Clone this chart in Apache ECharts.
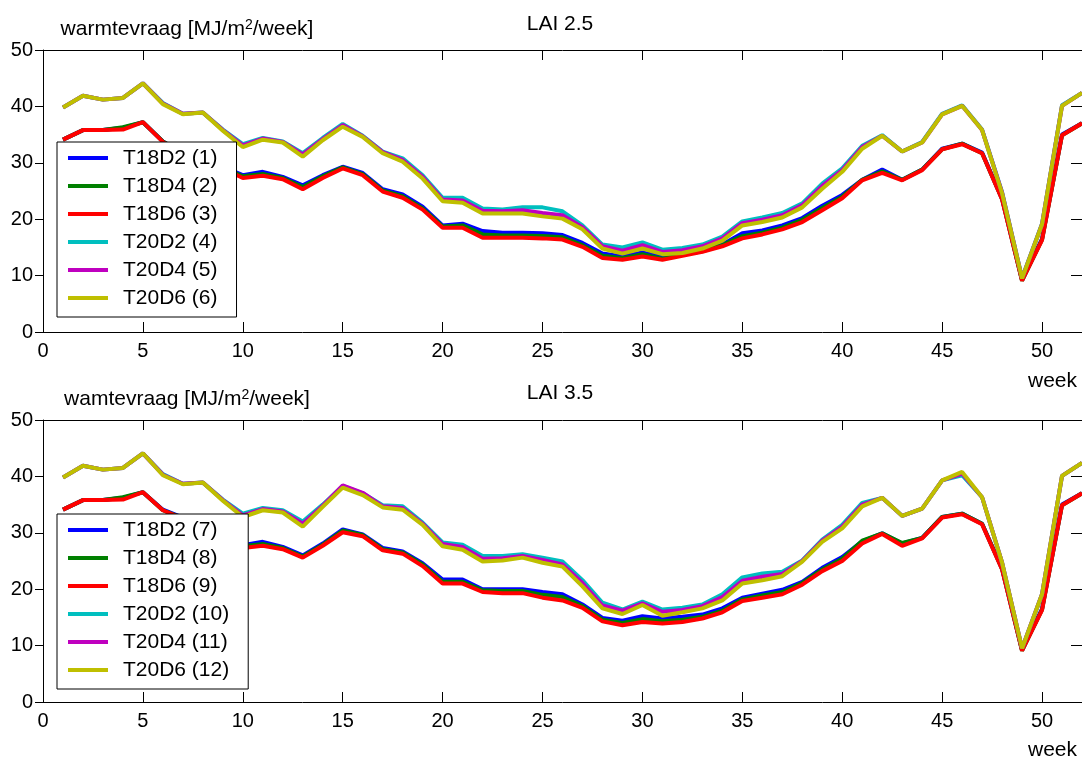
<!DOCTYPE html>
<html>
<head>
<meta charset="utf-8">
<script src="https://cdn.jsdelivr.net/npm/echarts@6/dist/echarts.min.js"></script>
<style>
html,body{margin:0;padding:0;background:#fff;}
#chart{width:1082px;height:760px;}
</style>
</head>
<body>
<div id="chart"></div>
<script>
// ---------- data ----------
var weeks = [1,2,3,4,5,6,7,8,9,10,11,12,13,14,15,16,17,18,19,20,21,22,23,24,25,26,
             27,28,29,30,31,32,33,34,35,36,37,38,39,40,41,42,43,44,45,46,47,48,49,50,51,52];
var xTicks = [0,5,10,15,20,25,30,35,40,45,50];
var yTicks = [0,10,20,30,40,50];

var namesTop = ['T18D2 (1)','T18D4 (2)','T18D6 (3)','T20D2 (4)','T20D4 (5)','T20D6 (6)'];
var namesBot = ['T18D2 (7)','T18D4 (8)','T18D6 (9)','T20D2 (10)','T20D4 (11)','T20D6 (12)'];
var colors = ['#0000ff','#008000','#ff0000','#00bfbf','#bf00bf','#bfbf00'];

// LAI 2.5
var top_T18D2 = [34.1,35.8,35.8,36.2,37.2,33.8,31.7,30.8,29.3,27.8,28.4,27.5,26.0,27.8,29.3,28.2,25.3,24.4,22.2,18.9,19.2,17.9,17.6,17.6,17.5,17.2,15.8,13.9,13.4,14.1,13.3,13.9,14.5,15.5,17.5,18.0,18.9,20.2,22.4,24.3,27.0,28.8,27.0,28.8,32.5,33.4,31.8,23.6,9.2,16.5,35.0,37.0];
var top_T18D4 = [34.1,35.8,35.8,36.3,37.2,33.8,31.6,30.6,29.1,27.6,28.0,27.3,25.7,27.6,29.2,28.0,25.1,24.1,21.9,18.7,18.9,17.3,17.1,17.1,17.0,16.8,15.4,13.5,13.1,13.8,13.0,13.7,14.3,15.4,17.0,17.6,18.5,19.9,22.0,24.0,27.0,28.5,27.0,28.8,32.4,33.4,31.7,23.6,9.1,16.4,34.9,37.0];
var top_T18D6 = [34.1,35.8,35.8,35.9,37.2,33.7,31.5,30.5,29.0,27.3,27.7,27.1,25.3,27.3,29.0,27.8,24.9,23.8,21.7,18.5,18.5,16.7,16.7,16.7,16.6,16.4,15.1,13.1,12.8,13.4,12.8,13.5,14.2,15.2,16.6,17.3,18.2,19.5,21.6,23.7,26.9,28.2,26.9,28.7,32.4,33.3,31.7,23.5,9.1,16.3,34.9,37.0];
var top_T20D2 = [39.8,41.9,41.2,41.5,44.1,40.6,38.7,38.9,35.9,33.3,34.4,33.8,31.7,34.4,36.9,34.8,32.0,30.8,27.8,23.8,23.8,21.9,21.7,22.1,22.1,21.4,18.9,15.5,15.0,15.9,14.6,14.9,15.5,16.9,19.6,20.3,21.1,22.8,26.3,29.0,33.0,34.9,32.0,33.7,38.7,40.2,35.9,24.8,9.6,19.2,40.2,42.4];
var top_T20D4 = [39.8,41.9,41.2,41.5,44.1,40.5,38.7,38.9,35.8,33.1,34.3,33.7,31.5,34.2,36.7,34.7,31.9,30.5,27.5,23.5,23.3,21.5,21.4,21.6,21.1,20.7,18.6,15.2,14.4,15.4,14.2,14.5,15.2,16.6,19.3,19.9,20.7,22.5,25.9,28.7,32.8,34.8,32.0,33.6,38.6,40.1,35.8,24.7,9.5,19.1,40.1,42.4];
var top_T20D6 = [39.8,41.9,41.2,41.5,44.1,40.4,38.6,38.9,35.7,32.8,34.1,33.6,31.1,34.0,36.4,34.6,31.7,30.2,27.2,23.2,22.9,21.0,21.0,21.0,20.5,20.1,18.2,14.8,13.9,14.8,13.8,14.0,14.8,16.2,18.9,19.5,20.3,22.1,25.4,28.4,32.5,34.8,32.0,33.6,38.6,40.1,35.8,24.6,9.5,19.1,40.1,42.4];

// LAI 3.5
var bot_T18D2 = [34.1,35.8,35.8,36.2,37.2,34.1,32.7,31.3,29.4,27.8,28.4,27.5,26.0,28.1,30.6,29.7,27.3,26.7,24.6,21.7,21.7,20.0,20.0,20.0,19.5,19.1,17.3,14.9,14.4,15.2,14.8,15.1,15.5,16.6,18.5,19.2,19.9,21.3,23.8,25.7,28.5,29.9,28.1,29.1,32.8,33.4,31.6,23.6,9.2,16.5,35.0,37.0];
var bot_T18D4 = [34.1,35.8,35.8,36.3,37.2,34.0,32.6,31.2,29.2,27.6,28.0,27.3,25.8,27.9,30.4,29.6,27.1,26.5,24.4,21.3,21.3,19.8,19.7,19.7,19.0,18.6,17.0,14.6,14.0,14.7,14.3,14.6,15.1,16.2,18.2,18.9,19.5,21.1,23.5,25.4,28.6,29.9,28.2,29.1,32.8,33.4,31.6,23.6,9.1,16.4,34.9,37.0];
var bot_T18D6 = [34.1,35.8,35.8,35.9,37.2,34.0,32.5,31.0,29.0,27.3,27.7,27.1,25.6,27.7,30.1,29.4,26.9,26.3,24.1,21.0,21.0,19.5,19.3,19.3,18.5,18.0,16.7,14.3,13.6,14.2,13.9,14.2,14.8,15.9,17.9,18.5,19.1,20.8,23.2,25.0,28.1,29.8,27.7,29.0,32.7,33.3,31.5,23.5,9.1,16.3,34.9,37.0];
var bot_T20D2 = [39.8,41.9,41.2,41.5,44.1,40.4,38.7,38.9,35.9,33.4,34.4,34.0,32.0,35.0,38.3,37.0,34.9,34.7,31.8,28.3,27.9,25.9,25.9,26.2,25.6,24.9,21.6,17.6,16.4,17.8,16.4,16.7,17.3,19.1,22.1,22.8,23.1,25.1,28.8,31.4,35.3,36.2,33.0,34.3,39.3,40.2,36.3,24.7,9.5,19.1,40.1,42.4];
var bot_T20D4 = [39.8,41.9,41.2,41.5,44.1,40.3,38.7,38.9,35.8,33.1,34.2,33.8,31.6,34.8,38.4,37.1,34.7,34.4,31.6,28.0,27.5,25.4,25.5,25.9,25.2,24.4,21.1,17.1,16.2,17.5,16.0,16.3,17.0,18.6,21.5,22.2,22.7,25.0,28.6,31.1,35.0,36.2,33.0,34.3,39.3,40.5,36.3,24.7,9.5,19.1,40.1,42.4];
var bot_T20D6 = [39.8,41.9,41.2,41.5,44.1,40.2,38.6,38.9,35.7,32.8,34.0,33.6,31.1,34.6,38.0,36.7,34.5,34.1,31.4,27.6,27.0,24.9,25.1,25.6,24.7,24.0,20.5,16.6,15.6,17.2,15.3,15.9,16.6,18.0,21.0,21.6,22.3,24.9,28.4,30.8,34.7,36.2,33.0,34.3,39.3,40.8,36.3,24.7,9.5,19.1,40.1,42.4];

var topSeries = [top_T18D2, top_T18D4, top_T18D6, top_T20D2, top_T20D4, top_T20D6];
var botSeries = [bot_T18D2, bot_T18D4, bot_T18D6, bot_T20D2, bot_T20D4, bot_T20D6];

// ---------- chart ----------
var FONT = '"Liberation Sans", Arial, Helvetica, sans-serif';
function pairs(vals){ return weeks.map(function(w,i){ return [w, vals[i]]; }); }

var GRID_LEFT = 43, GRID_W = 1040, GRID_H = 282;
var gridTops = [50, 420];

function xAxes(gi){
  return [
    { gridIndex: gi, type: 'value', position: 'bottom', min: 0, max: 52, interval: 5,
      axisLine: { onZero: false, lineStyle: { color: '#000', width: 1 } },
      axisTick: { inside: true, length: 10, lineStyle: { color: '#000' } },
      axisLabel: { color: '#000', fontSize: 20, fontFamily: FONT, margin: 9, showMaxLabel: false },
      splitLine: { show: false } },
    { gridIndex: gi, type: 'value', position: 'top', min: 0, max: 52, interval: 5,
      axisLine: { onZero: false, lineStyle: { color: '#000', width: 1 } },
      axisTick: { inside: true, length: 10, lineStyle: { color: '#000' } },
      axisLabel: { show: false }, splitLine: { show: false } }
  ];
}
function yAxes(gi){
  return [
    { gridIndex: gi, type: 'value', position: 'left', min: 0, max: 50, interval: 10,
      axisLine: { show: true, onZero: false, lineStyle: { color: '#000', width: 1 } },
      axisTick: { show: true, inside: false, length: 8, lineStyle: { color: '#000' } },
      axisLabel: { color: '#000', fontSize: 20, fontFamily: FONT, margin: 10 },
      splitLine: { show: false } },
    { gridIndex: gi, type: 'value', position: 'right', min: 0, max: 50, interval: 10,
      axisLine: { show: true, onZero: false, lineStyle: { color: '#000', width: 1 } },
      axisTick: { show: true, inside: true, length: 11, lineStyle: { color: '#000' } },
      axisLabel: { show: false }, splitLine: { show: false } }
  ];
}

var series = [];
function addSeries(names, data, gi){
  names.forEach(function(n, i){
    series.push({
      name: n, type: 'line', xAxisIndex: gi*2, yAxisIndex: gi*2,
      data: pairs(data[i]), showSymbol: false, symbol: 'none',
      lineStyle: { color: colors[i], width: 4 }, itemStyle: { color: colors[i] },
      clip: true, animation: false, z: 2
    });
  });
}
addSeries(namesTop, topSeries, 0);
addSeries(namesBot, botSeries, 1);

function legend(names, top){
  return {
    data: names, orient: 'vertical', left: 57, top: top, z: 20,
    icon: 'rect', itemWidth: 40, itemHeight: 4, itemGap: 6,
    backgroundColor: '#fff', borderColor: '#000', borderWidth: 1, borderRadius: 0,
    padding: [5, 19, 8, 11], selectedMode: false,
    textStyle: { color: '#000', fontSize: 21, fontFamily: FONT, lineHeight: 22, padding: [0,0,0,10] }
  };
}

var supRich = {
  a: { fontSize: 21, fontFamily: FONT, color: '#000', verticalAlign: 'bottom', lineHeight: 26 },
  s: { fontSize: 14, fontFamily: FONT, color: '#000', verticalAlign: 'bottom', lineHeight: 26, padding: [0,0,8,0] }
};

var option = {
  animation: false,
  backgroundColor: '#fff',
  grid: gridTops.map(function(t){ return { left: GRID_LEFT, top: t, width: GRID_W, height: GRID_H, containLabel: false }; }),
  xAxis: xAxes(0).concat(xAxes(1)),
  yAxis: yAxes(0).concat(yAxes(1)),
  legend: [legend(namesTop, 142), legend(namesBot, 514)],
  series: series,
  graphic: [
    { type: 'text', x: 187, y: 27, z: 100, style: { text: '{a|warmtevraag [MJ/m}{s|2}{a|/week]}', rich: supRich, fill: '#000', font: '21px ' + FONT, textAlign: 'center', textVerticalAlign: 'middle' } },
    { type: 'text', x: 187, y: 397, z: 100, style: { text: '{a|wamtevraag [MJ/m}{s|2}{a|/week]}', rich: supRich, fill: '#000', font: '21px ' + FONT, textAlign: 'center', textVerticalAlign: 'middle' } },
    { type: 'text', x: 560, y: 24, z: 100, style: { text: 'LAI 2.5', fill: '#000', font: '21px ' + FONT, textAlign: 'center', textVerticalAlign: 'middle' } },
    { type: 'text', x: 560, y: 393, z: 100, style: { text: 'LAI 3.5', fill: '#000', font: '21px ' + FONT, textAlign: 'center', textVerticalAlign: 'middle' } },
    { type: 'text', x: 1077, y: 381, z: 100, style: { text: 'week', fill: '#000', font: '21px ' + FONT, textAlign: 'right', textVerticalAlign: 'middle' } },
    { type: 'text', x: 1077, y: 750, z: 100, style: { text: 'week', fill: '#000', font: '21px ' + FONT, textAlign: 'right', textVerticalAlign: 'middle' } }
  ]
};

var chart = echarts.init(document.getElementById('chart'), null, { renderer: 'canvas' });
chart.setOption(option);
</script>
</body>
</html>
